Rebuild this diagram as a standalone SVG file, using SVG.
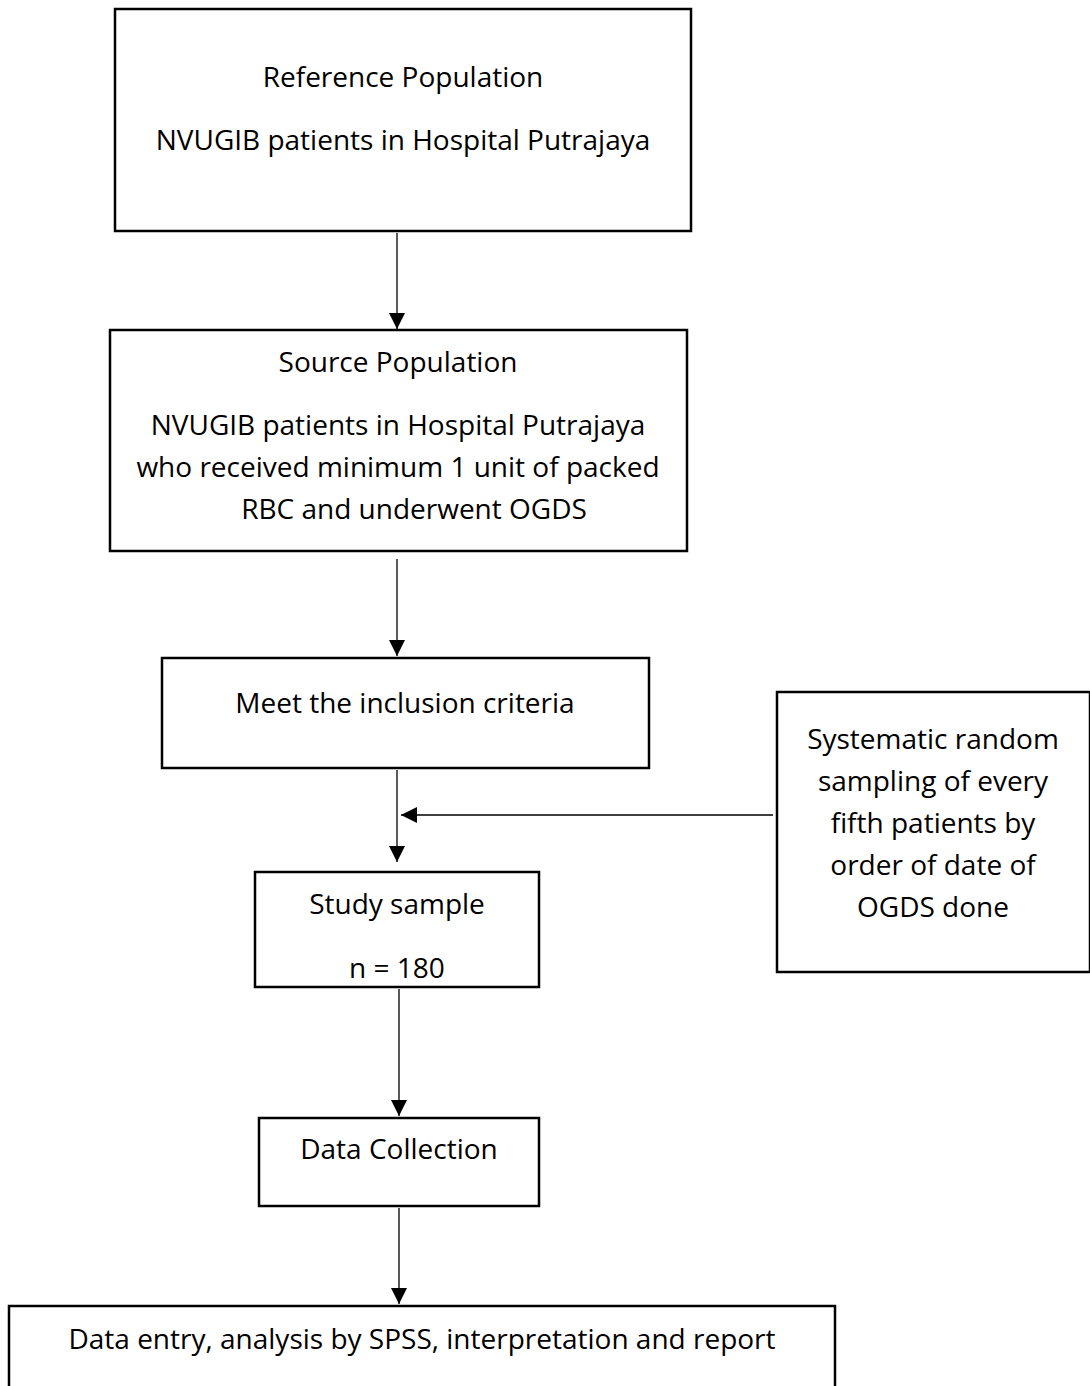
<svg xmlns="http://www.w3.org/2000/svg" width="1090" height="1386" viewBox="0 0 1090 1386">
<defs>
<marker id="arr" viewBox="0 0 10 10" refX="10" refY="5" markerWidth="16" markerHeight="16" markerUnits="userSpaceOnUse" orient="auto">
<path d="M0,0 L10,5 L0,10 Z" fill="#000"/>
</marker>
<style>
.box{fill:#fff;stroke:#000;stroke-width:2.5}
.t{font-family:"Open Sans","Liberation Sans",sans-serif;font-size:28px;fill:#000;text-anchor:middle}
.c{stroke:#000;stroke-width:1.3;fill:none;marker-end:url(#arr)}
</style>
</defs>
<rect width="1090" height="1386" fill="#fff"/>
<g id="connectors">
<line class="c" x1="397" y1="233" x2="397" y2="329"/>
<line class="c" x1="397" y1="559" x2="397" y2="656"/>
<line class="c" x1="397" y1="770" x2="397" y2="862"/>
<line class="c" x1="773" y1="815" x2="401" y2="815"/>
<line class="c" x1="399" y1="989" x2="399" y2="1116"/>
<line class="c" x1="399" y1="1208" x2="399" y2="1304"/>
</g>
<g id="reference">
<rect class="box" x="115" y="9" width="576" height="222"/>
<text class="t" x="403" y="87">Reference Population</text>
<text class="t" x="403" y="150">NVUGIB patients in Hospital Putrajaya</text>
</g>
<g id="source">
<rect class="box" x="110" y="330" width="577" height="221"/>
<text class="t" x="398" y="372">Source Population</text>
<text class="t" x="398" y="435">NVUGIB patients in Hospital Putrajaya</text>
<text class="t" x="398" y="477">who received minimum 1 unit of packed</text>
<text class="t" x="414" y="519">RBC and underwent OGDS</text>
</g>
<g id="inclusion">
<rect class="box" x="162" y="658" width="487" height="110"/>
<text class="t" x="405" y="713">Meet the inclusion criteria</text>
</g>
<g id="sampling">
<rect class="box" x="777" y="692" width="313" height="280"/>
<text class="t" x="933" y="749">Systematic random</text>
<text class="t" x="933" y="791">sampling of every</text>
<text class="t" x="933" y="833">fifth patients by</text>
<text class="t" x="933" y="875">order of date of</text>
<text class="t" x="933" y="917">OGDS done</text>
</g>
<g id="study">
<rect class="box" x="255" y="872" width="284" height="115"/>
<text class="t" x="397" y="914">Study sample</text>
<text class="t" x="397" y="978">n = 180</text>
</g>
<g id="collection">
<rect class="box" x="259" y="1118" width="280" height="88"/>
<text class="t" x="399" y="1159">Data Collection</text>
</g>
<g id="analysis">
<rect class="box" x="9" y="1306" width="826" height="100"/>
<text class="t" x="422" y="1349">Data entry, analysis by SPSS, interpretation and report</text>
</g>
</svg>
